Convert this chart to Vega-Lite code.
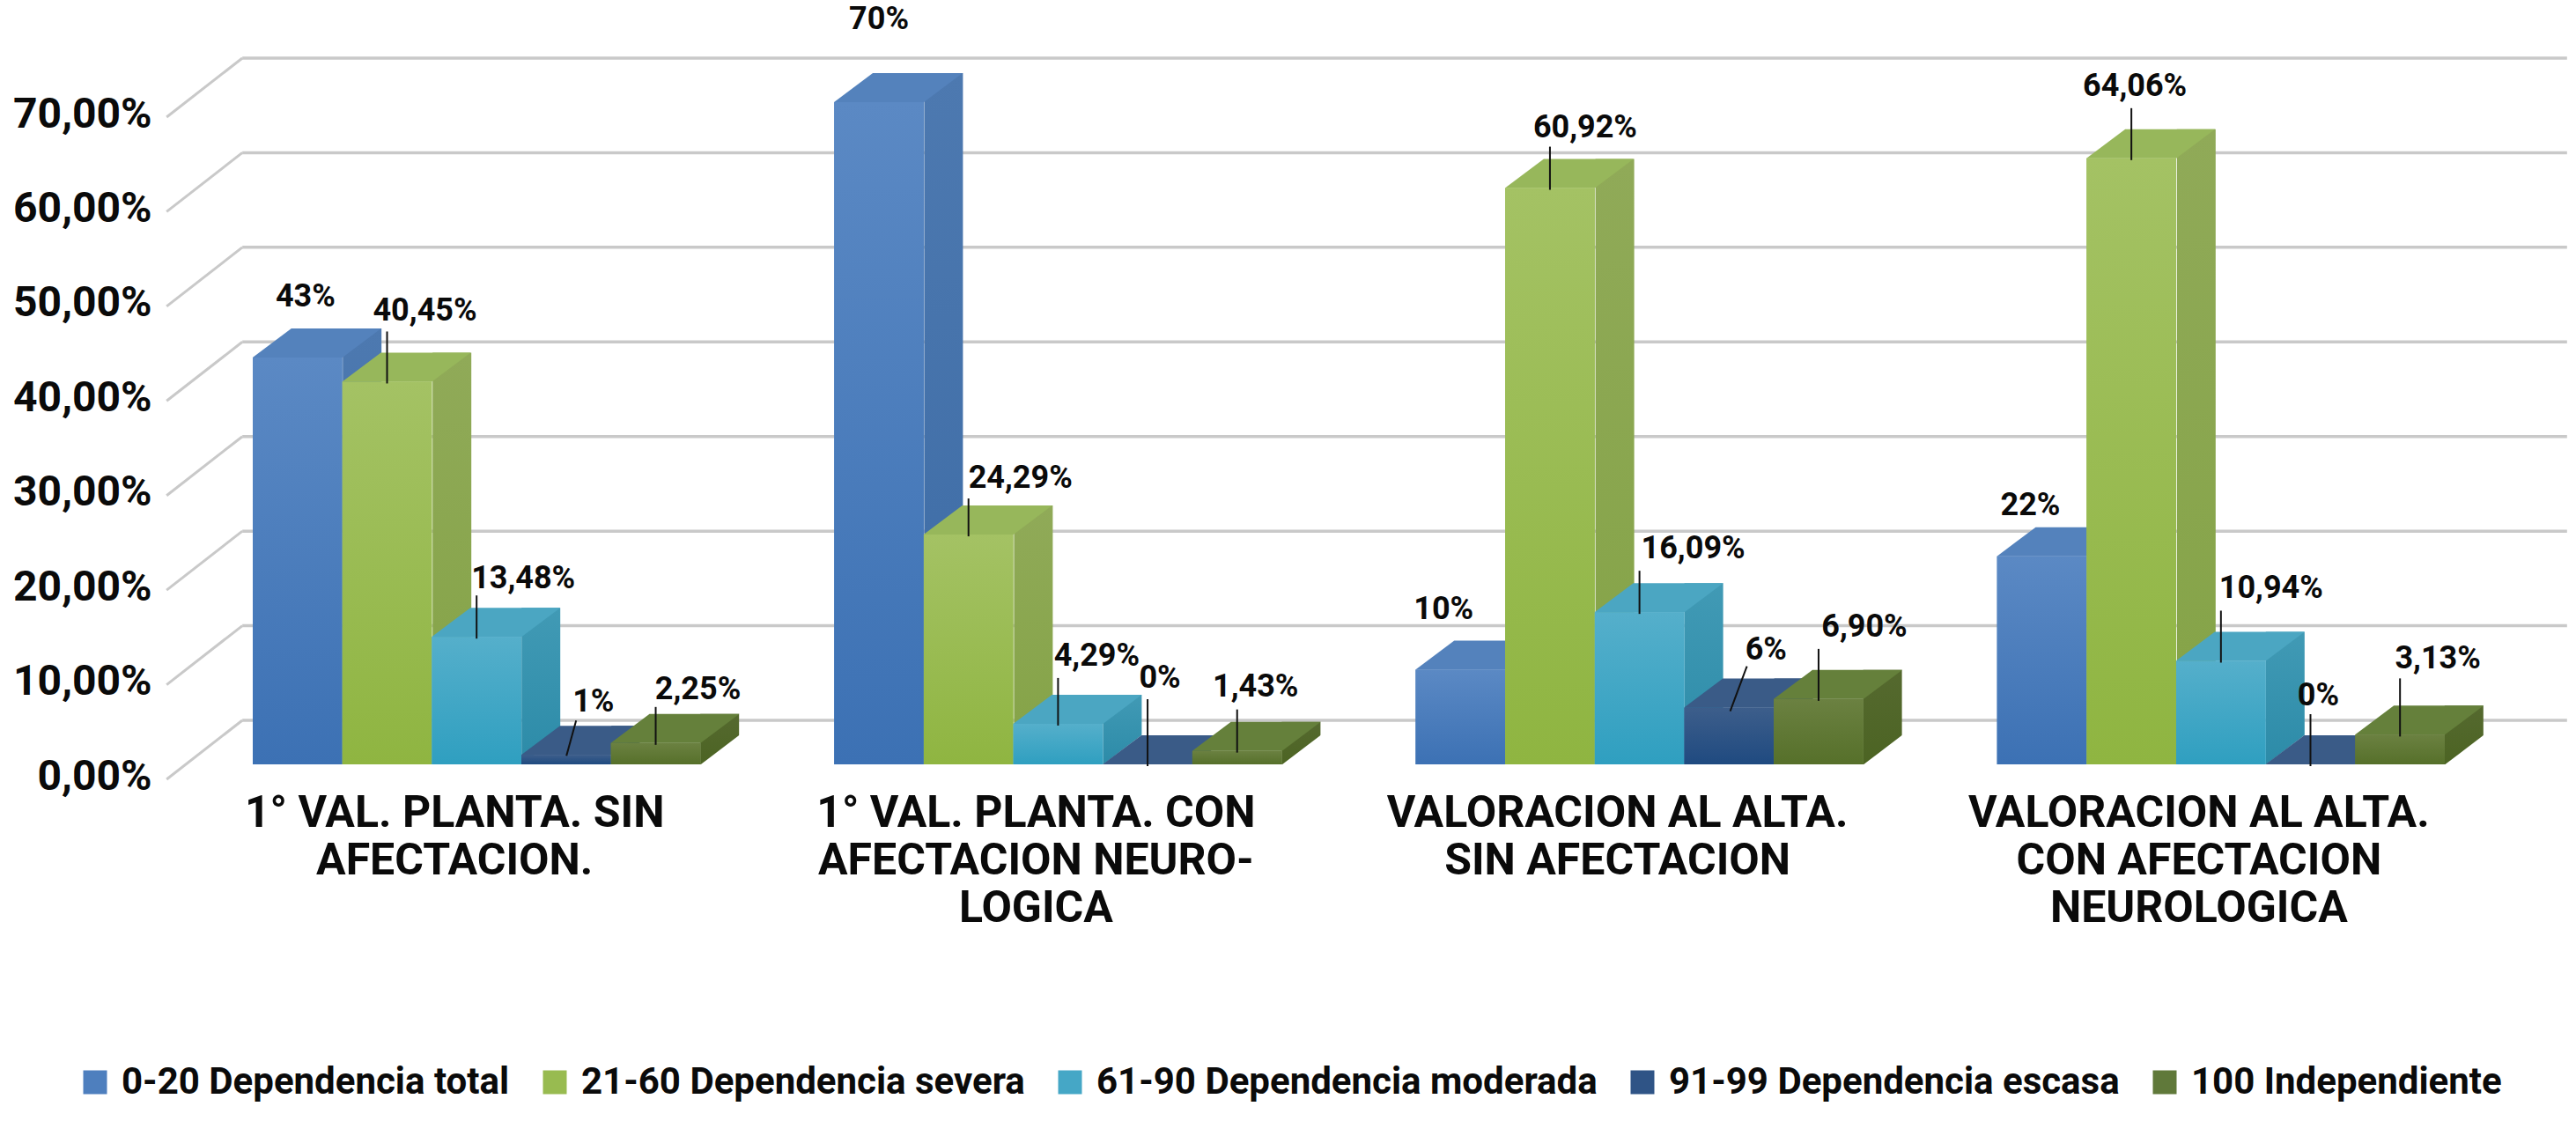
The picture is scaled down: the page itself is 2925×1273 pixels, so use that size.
{
"$schema":"https://vega.github.io/schema/vega-lite/v6.json",
"autosize":{"type":"none"},
"padding":{"left":287,"right":149,"top":116,"bottom":405},
"width":2489,"height":752,"background":"white",
"config":{"view":{"stroke":null}},
"datasets":{
"ticks":[{"tick":0},{"tick":10},{"tick":20},{"tick":30},{"tick":40},{"tick":50},{"tick":60},{"tick":70}],
"bars":[
{"key":"A0","category":"1° VAL. PLANTA. SIN|AFECTACION.","series":"0-20 Dependencia total","value":43,"label":"43%"},
{"key":"A1","category":"1° VAL. PLANTA. SIN|AFECTACION.","series":"21-60 Dependencia severa","value":40.45,"label":"40,45%"},
{"key":"A2","category":"1° VAL. PLANTA. SIN|AFECTACION.","series":"61-90 Dependencia moderada","value":13.48,"label":"13,48%"},
{"key":"A3","category":"1° VAL. PLANTA. SIN|AFECTACION.","series":"91-99 Dependencia escasa","value":1,"label":"1%"},
{"key":"A4","category":"1° VAL. PLANTA. SIN|AFECTACION.","series":"100 Independiente","value":2.25,"label":"2,25%"},
{"key":"B0","category":"1° VAL. PLANTA. CON|AFECTACION NEURO-|LOGICA","series":"0-20 Dependencia total","value":70,"label":"70%"},
{"key":"B1","category":"1° VAL. PLANTA. CON|AFECTACION NEURO-|LOGICA","series":"21-60 Dependencia severa","value":24.29,"label":"24,29%"},
{"key":"B2","category":"1° VAL. PLANTA. CON|AFECTACION NEURO-|LOGICA","series":"61-90 Dependencia moderada","value":4.29,"label":"4,29%"},
{"key":"B3","category":"1° VAL. PLANTA. CON|AFECTACION NEURO-|LOGICA","series":"91-99 Dependencia escasa","value":0,"label":"0%"},
{"key":"B4","category":"1° VAL. PLANTA. CON|AFECTACION NEURO-|LOGICA","series":"100 Independiente","value":1.43,"label":"1,43%"},
{"key":"C0","category":"VALORACION AL ALTA.|SIN AFECTACION","series":"0-20 Dependencia total","value":10,"label":"10%"},
{"key":"C1","category":"VALORACION AL ALTA.|SIN AFECTACION","series":"21-60 Dependencia severa","value":60.92,"label":"60,92%"},
{"key":"C2","category":"VALORACION AL ALTA.|SIN AFECTACION","series":"61-90 Dependencia moderada","value":16.09,"label":"16,09%"},
{"key":"C3","category":"VALORACION AL ALTA.|SIN AFECTACION","series":"91-99 Dependencia escasa","value":6,"label":"6%"},
{"key":"C4","category":"VALORACION AL ALTA.|SIN AFECTACION","series":"100 Independiente","value":6.9,"label":"6,90%"},
{"key":"D0","category":"VALORACION AL ALTA.|CON AFECTACION|NEUROLOGICA","series":"0-20 Dependencia total","value":22,"label":"22%"},
{"key":"D1","category":"VALORACION AL ALTA.|CON AFECTACION|NEUROLOGICA","series":"21-60 Dependencia severa","value":64.06,"label":"64,06%"},
{"key":"D2","category":"VALORACION AL ALTA.|CON AFECTACION|NEUROLOGICA","series":"61-90 Dependencia moderada","value":10.94,"label":"10,94%"},
{"key":"D3","category":"VALORACION AL ALTA.|CON AFECTACION|NEUROLOGICA","series":"91-99 Dependencia escasa","value":0,"label":"0%"},
{"key":"D4","category":"VALORACION AL ALTA.|CON AFECTACION|NEUROLOGICA","series":"100 Independiente","value":3.13,"label":"3,13%"}
]},
"resolve":{"scale":{"color":"independent"},"axis":{"x":"independent","y":"independent"}},
"layer":[
{"data":{"name":"ticks"},
 "mark":{"type":"rule","color":"#c9c9c9","strokeWidth":3.5,"xOffset":-266,"x2Offset":393,"yOffset":-50},
 "encoding":{
  "x":{"datum":"1° VAL. PLANTA. SIN|AFECTACION.","type":"nominal","scale":{"domain":["1° VAL. PLANTA. SIN|AFECTACION.","1° VAL. PLANTA. CON|AFECTACION NEURO-|LOGICA","VALORACION AL ALTA.|SIN AFECTACION","VALORACION AL ALTA.|CON AFECTACION|NEUROLOGICA"],"type":"band","paddingInner":0.23,"paddingOuter":0},"axis":null},
  "x2":{"datum":"VALORACION AL ALTA.|CON AFECTACION|NEUROLOGICA"},
  "y":{"field":"tick","type":"quantitative","scale":{"domain":[0,70],"nice":false},"axis":null}}},
{"data":{"name":"ticks"},
 "mark":{"type":"rule","color":"#c9c9c9","strokeWidth":3,"xOffset":-352,"x2Offset":-266,"yOffset":17,"y2Offset":-50},
 "encoding":{
  "x":{"datum":"1° VAL. PLANTA. SIN|AFECTACION.","type":"nominal","axis":null},
  "x2":{"datum":"1° VAL. PLANTA. SIN|AFECTACION."},
  "y":{"field":"tick","type":"quantitative","axis":null},
  "y2":{"field":"tick"}}},
{"data":{"name":"bars"},
 "resolve":{"scale":{"color":"independent"}},
 "encoding":{
  "x":{"field":"category","type":"nominal","sort":null,"title":null,
    "axis":{"orient":"bottom","domain":false,"ticks":false,"labelAngle":0,"labelExpr":"split(datum.label,'|')","labelOffset":-25,"labelPadding":30,"labelFont":"Roboto","labelFontWeight":700,"labelFontSize":50,"labelLineHeight":54,"labelColor":"#0a0a0a","labelLimit":1000,"labelOverlap":false,"labelBound":false,"labelFlush":false}},
  "xOffset":{"field":"series","type":"nominal","sort":null,"scale":{"domain":["0-20 Dependencia total","21-60 Dependencia severa","61-90 Dependencia moderada","91-99 Dependencia escasa","100 Independiente"],"paddingInner":0,"paddingOuter":0}},
  "y":{"field":"value","type":"quantitative","title":null,"stack":null,
    "axis":{"orient":"left","values":[0,10,20,30,40,50,60,70],"domain":false,"ticks":false,"grid":false,"labelExpr":"replace(format(datum.value,'.2f'),'.',',')+'%'","labelPadding":115,"labelOffset":14,"labelFont":"Roboto","labelFontWeight":700,"labelFontSize":48,"labelColor":"#0a0a0a","labelOverlap":false,"labelBound":false,"labelFlush":false}}
 },
 "layer":[
  {"transform":[{"filter":"indexof(datum.series,'0-20')==0"}],"mark":{"type":"bar","width":44,"xOffset":-130,"yOffset":-33,"y2Offset":0,"color":{"gradient":"linear","x1":0,"y1":0,"x2":0,"y2":1,"stops":[{"offset":0,"color":"#4d79b0"},{"offset":1,"color":"#3c6ba5"}]}},"encoding":{"xOffset":null}},
  {"transform":[{"filter":"indexof(datum.series,'21-60')==0"}],"mark":{"type":"bar","width":44,"xOffset":-28,"yOffset":-33,"y2Offset":0,"color":{"gradient":"linear","x1":0,"y1":0,"x2":0,"y2":1,"stops":[{"offset":0,"color":"#90aa58"},{"offset":1,"color":"#84a346"}]}},"encoding":{"xOffset":null}},
  {"transform":[{"filter":"indexof(datum.series,'61-90')==0"}],"mark":{"type":"bar","width":44,"xOffset":73,"yOffset":-33,"y2Offset":0,"color":{"gradient":"linear","x1":0,"y1":0,"x2":0,"y2":1,"stops":[{"offset":0,"color":"#419ab5"},{"offset":1,"color":"#2c8ba8"}]}},"encoding":{"xOffset":null}},
  {"transform":[{"filter":"indexof(datum.series,'91-99')==0"}],"mark":{"type":"bar","width":44,"xOffset":175,"yOffset":-33,"y2Offset":0,"color":{"gradient":"linear","x1":0,"y1":0,"x2":0,"y2":1,"stops":[{"offset":0,"color":"#2f5078"},{"offset":1,"color":"#254872"}]}},"encoding":{"xOffset":null}},
  {"transform":[{"filter":"indexof(datum.series,'100 ')==0"}],"mark":{"type":"bar","width":44,"xOffset":276,"yOffset":-33,"y2Offset":0,"color":{"gradient":"linear","x1":0,"y1":0,"x2":0,"y2":1,"stops":[{"offset":0,"color":"#55692f"},{"offset":1,"color":"#4c6423"}]}},"encoding":{"xOffset":null}},
  {"mark":{"type":"point","filled":true,"fill":"white","opacity":1,"size":4,"strokeWidth":0,"shape":"M50 1L96 -34L96 1Z"},"encoding":{"y":{"datum":0,"type":"quantitative"}}},
  {"mark":{"type":"point","filled":true,"opacity":1,"size":4,"strokeWidth":0,"shape":"M-51 0L51 0L95 -33L-7 -33Z"},
   "encoding":{"color":{"field":"series","type":"nominal","legend":null,"scale":{"domain":["0-20 Dependencia total","21-60 Dependencia severa","61-90 Dependencia moderada","91-99 Dependencia escasa","100 Independiente"],"range":["#5482bc","#97b75b","#4ba6c2","#3a5b87","#65803b"]}}}},
  {"mark":{"type":"bar"},
   "encoding":{"color":{"field":"series","type":"nominal","title":null,"scale":{"domain":["0-20 Dependencia total","21-60 Dependencia severa","61-90 Dependencia moderada","91-99 Dependencia escasa","100 Independiente"],"range":["#4e7fbe","#98bb50","#45a7c6","#2f5486","#60793a"]},
     "legend":{"orient":"none","legendX":-200,"legendY":1092,"direction":"horizontal","columns":5,"symbolType":"square","symbolSize":729,"symbolStrokeWidth":0,"labelFont":"Roboto","labelFontWeight":700,"labelFontSize":42,"labelColor":"#0a0a0a","labelLimit":1000,"labelOffset":9,"columnPadding":30,"title":null}}}},
  {"transform":[{"filter":"indexof(datum.series,'0-20')==0"}],"mark":{"type":"bar","color":{"gradient":"linear","x1":0,"y1":0,"x2":0,"y2":1,"stops":[{"offset":0,"color":"#5b89c4"},{"offset":1,"color":"#3c71b4"}]}}},
  {"transform":[{"filter":"indexof(datum.series,'21-60')==0"}],"mark":{"type":"bar","color":{"gradient":"linear","x1":0,"y1":0,"x2":0,"y2":1,"stops":[{"offset":0,"color":"#a4c264"},{"offset":1,"color":"#8fb541"}]}}},
  {"transform":[{"filter":"indexof(datum.series,'61-90')==0"}],"mark":{"type":"bar","color":{"gradient":"linear","x1":0,"y1":0,"x2":0,"y2":1,"stops":[{"offset":0,"color":"#55afcb"},{"offset":1,"color":"#2f9fc0"}]}}},
  {"transform":[{"filter":"indexof(datum.series,'91-99')==0"}],"mark":{"type":"bar","color":{"gradient":"linear","x1":0,"y1":0,"x2":0,"y2":1,"stops":[{"offset":0,"color":"#3d5e8b"},{"offset":1,"color":"#1f4a80"}]}}},
  {"transform":[{"filter":"indexof(datum.series,'100 ')==0"}],"mark":{"type":"bar","color":{"gradient":"linear","x1":0,"y1":0,"x2":0,"y2":1,"stops":[{"offset":0,"color":"#6b8141"},{"offset":1,"color":"#56702a"}]}}},
  {"transform":[{"filter":{"field":"key","oneOf":["A4","B1"]}}],"mark":{"type":"rule","color":"#111111","strokeWidth":2,"yOffset":2,"y2Offset":-41},"encoding":{"y2":{"field":"value"}}},
  {"transform":[{"filter":{"field":"key","oneOf":["A2","B4","C1","C2"]}}],"mark":{"type":"rule","color":"#111111","strokeWidth":2,"yOffset":2,"y2Offset":-47},"encoding":{"y2":{"field":"value"}}},
  {"transform":[{"filter":{"field":"key","oneOf":["B2"]}}],"mark":{"type":"rule","color":"#111111","strokeWidth":2,"yOffset":2,"y2Offset":-52},"encoding":{"y2":{"field":"value"}}},
  {"transform":[{"filter":{"field":"key","oneOf":["A1","C4","D1","D2","D3"]}}],"mark":{"type":"rule","color":"#111111","strokeWidth":2,"yOffset":2,"y2Offset":-57},"encoding":{"y2":{"field":"value"}}},
  {"transform":[{"filter":{"field":"key","oneOf":["D4"]}}],"mark":{"type":"rule","color":"#111111","strokeWidth":2,"yOffset":2,"y2Offset":-64},"encoding":{"y2":{"field":"value"}}},
  {"transform":[{"filter":{"field":"key","oneOf":["B3"]}}],"mark":{"type":"rule","color":"#111111","strokeWidth":2,"yOffset":2,"y2Offset":-74},"encoding":{"y2":{"field":"value"}}},
  {"transform":[{"filter":{"field":"key","oneOf":["A3"]}}],"mark":{"type":"rule","color":"#111111","strokeWidth":2,"xOffset":102,"x2Offset":113,"yOffset":1,"y2Offset":-39},"encoding":{"xOffset":null,"x2":{"field":"category"},"y2":{"field":"value"}}},
  {"transform":[{"filter":{"field":"key","oneOf":["C3"]}}],"mark":{"type":"rule","color":"#111111","strokeWidth":2,"xOffset":103,"x2Offset":122,"yOffset":4,"y2Offset":-47},"encoding":{"xOffset":null,"x2":{"field":"category"},"y2":{"field":"value"}}},
  {"transform":[{"filter":"datum.key=='A0'"}],"mark":{"type":"text","dx":9,"dy":-69,"font":"Roboto","fontWeight":700,"fontSize":36,"color":"#0a0a0a"},"encoding":{"text":{"field":"label"}}},
  {"transform":[{"filter":"datum.key=='A1'"}],"mark":{"type":"text","dx":43,"dy":-80,"font":"Roboto","fontWeight":700,"fontSize":36,"color":"#0a0a0a"},"encoding":{"text":{"field":"label"}}},
  {"transform":[{"filter":"datum.key=='A2'"}],"mark":{"type":"text","dx":53,"dy":-66,"font":"Roboto","fontWeight":700,"fontSize":36,"color":"#0a0a0a"},"encoding":{"text":{"field":"label"}}},
  {"transform":[{"filter":"datum.key=='A3'"}],"mark":{"type":"text","dx":31,"dy":-60,"font":"Roboto","fontWeight":700,"fontSize":36,"color":"#0a0a0a"},"encoding":{"text":{"field":"label"}}},
  {"transform":[{"filter":"datum.key=='A4'"}],"mark":{"type":"text","dx":48,"dy":-61,"font":"Roboto","fontWeight":700,"fontSize":36,"color":"#0a0a0a"},"encoding":{"text":{"field":"label"}}},
  {"transform":[{"filter":"datum.key=='B0'"}],"mark":{"type":"text","dx":0,"dy":-94,"font":"Roboto","fontWeight":700,"fontSize":36,"color":"#0a0a0a"},"encoding":{"text":{"field":"label"}}},
  {"transform":[{"filter":"datum.key=='B1'"}],"mark":{"type":"text","dx":59,"dy":-64,"font":"Roboto","fontWeight":700,"fontSize":36,"color":"#0a0a0a"},"encoding":{"text":{"field":"label"}}},
  {"transform":[{"filter":"datum.key=='B2'"}],"mark":{"type":"text","dx":44,"dy":-77,"font":"Roboto","fontWeight":700,"fontSize":36,"color":"#0a0a0a"},"encoding":{"text":{"field":"label"}}},
  {"transform":[{"filter":"datum.key=='B3'"}],"mark":{"type":"text","dx":14,"dy":-98,"font":"Roboto","fontWeight":700,"fontSize":36,"color":"#0a0a0a"},"encoding":{"text":{"field":"label"}}},
  {"transform":[{"filter":"datum.key=='B4'"}],"mark":{"type":"text","dx":21,"dy":-73,"font":"Roboto","fontWeight":700,"fontSize":36,"color":"#0a0a0a"},"encoding":{"text":{"field":"label"}}},
  {"transform":[{"filter":"datum.key=='C0'"}],"mark":{"type":"text","dx":-19,"dy":-69,"font":"Roboto","fontWeight":700,"fontSize":36,"color":"#0a0a0a"},"encoding":{"text":{"field":"label"}}},
  {"transform":[{"filter":"datum.key=='C1'"}],"mark":{"type":"text","dx":40,"dy":-69,"font":"Roboto","fontWeight":700,"fontSize":36,"color":"#0a0a0a"},"encoding":{"text":{"field":"label"}}},
  {"transform":[{"filter":"datum.key=='C2'"}],"mark":{"type":"text","dx":61,"dy":-72,"font":"Roboto","fontWeight":700,"fontSize":36,"color":"#0a0a0a"},"encoding":{"text":{"field":"label"}}},
  {"transform":[{"filter":"datum.key=='C3'"}],"mark":{"type":"text","dx":42,"dy":-66,"font":"Roboto","fontWeight":700,"fontSize":36,"color":"#0a0a0a"},"encoding":{"text":{"field":"label"}}},
  {"transform":[{"filter":"datum.key=='C4'"}],"mark":{"type":"text","dx":52,"dy":-82,"font":"Roboto","fontWeight":700,"fontSize":36,"color":"#0a0a0a"},"encoding":{"text":{"field":"label"}}},
  {"transform":[{"filter":"datum.key=='D0'"}],"mark":{"type":"text","dx":-13,"dy":-58,"font":"Roboto","fontWeight":700,"fontSize":36,"color":"#0a0a0a"},"encoding":{"text":{"field":"label"}}},
  {"transform":[{"filter":"datum.key=='D1'"}],"mark":{"type":"text","dx":4,"dy":-82,"font":"Roboto","fontWeight":700,"fontSize":36,"color":"#0a0a0a"},"encoding":{"text":{"field":"label"}}},
  {"transform":[{"filter":"datum.key=='D2'"}],"mark":{"type":"text","dx":57,"dy":-82,"font":"Roboto","fontWeight":700,"fontSize":36,"color":"#0a0a0a"},"encoding":{"text":{"field":"label"}}},
  {"transform":[{"filter":"datum.key=='D3'"}],"mark":{"type":"text","dx":9,"dy":-78,"font":"Roboto","fontWeight":700,"fontSize":36,"color":"#0a0a0a"},"encoding":{"text":{"field":"label"}}},
  {"transform":[{"filter":"datum.key=='D4'"}],"mark":{"type":"text","dx":43,"dy":-86,"font":"Roboto","fontWeight":700,"fontSize":36,"color":"#0a0a0a"},"encoding":{"text":{"field":"label"}}}
 ]}
]}
